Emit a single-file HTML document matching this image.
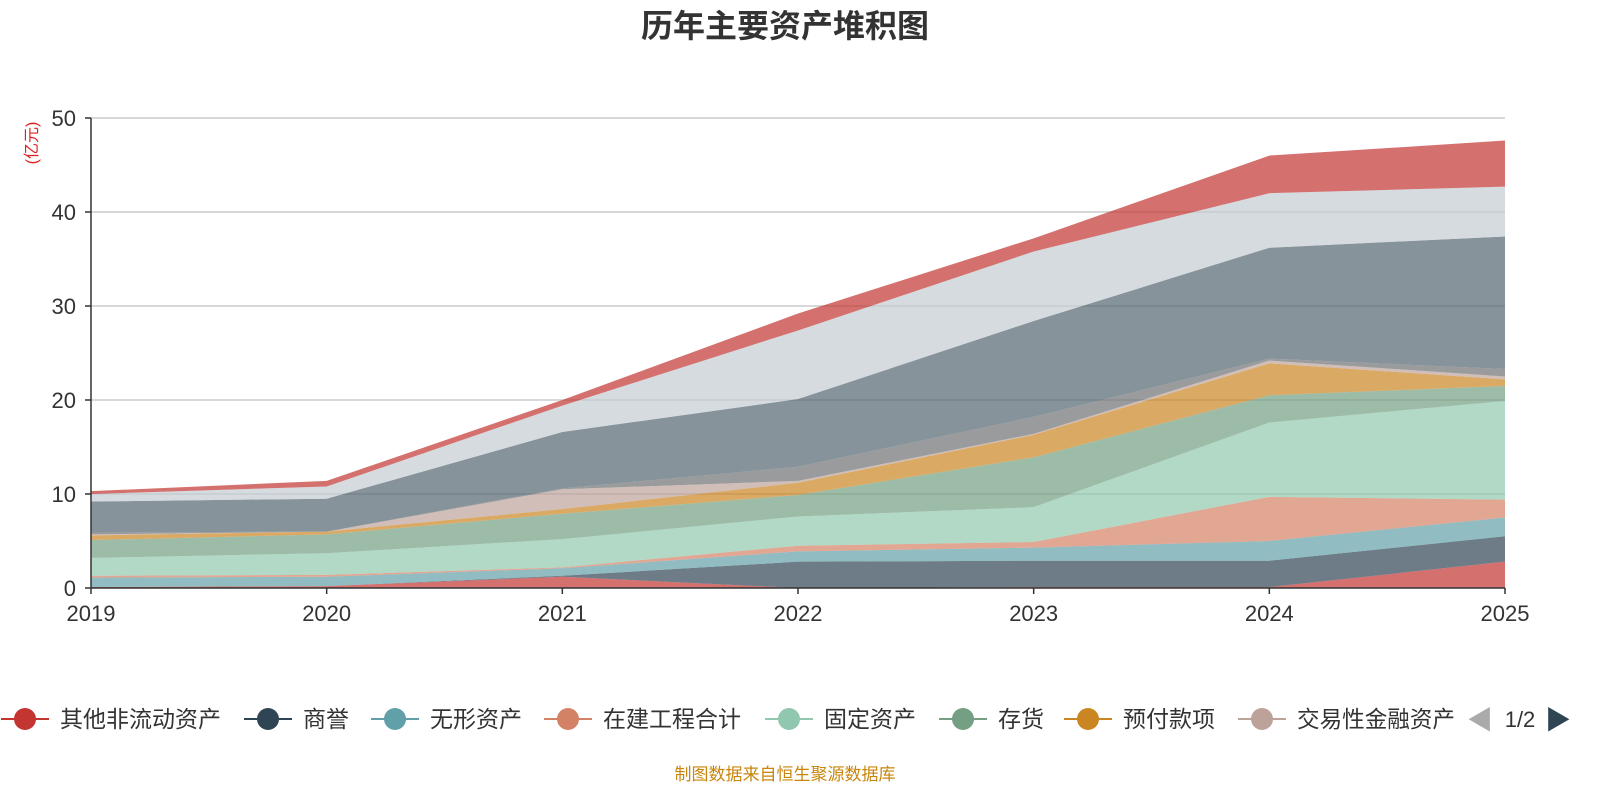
<!DOCTYPE html>
<html><head><meta charset="utf-8"><style>
body{margin:0;background:#fff;width:1600px;height:800px;overflow:hidden;font-family:"Liberation Sans","Noto Sans CJK SC",sans-serif;}
</style></head><body>
<svg id="chart" width="1600" height="800" xmlns="http://www.w3.org/2000/svg" font-family="Liberation Sans, Noto Sans CJK SC, sans-serif">
<text x="785" y="37" text-anchor="middle" font-size="32" font-weight="bold" fill="#333">历年主要资产堆积图</text>
<text transform="translate(37,143) rotate(-90)" text-anchor="middle" font-size="16" fill="#e02020">(亿元)</text>
<g id="grid"></g><g id="areas"></g><g id="axes"></g><g id="legend"></g>
<text x="1480" y="729" text-anchor="middle" font-size="26" fill="#aaa">◀</text>
<text x="1520" y="727" text-anchor="middle" font-size="22" fill="#333">1/2</text>
<text x="1558" y="729" text-anchor="middle" font-size="26" fill="#2f4554">▶</text>
<text x="785" y="780" text-anchor="middle" font-size="17" fill="#c8860c">制图数据来自恒生聚源数据库</text>
</svg>
<script>
const years=['2019','2020','2021','2022','2023','2024','2025'];
const seriesNames=['其他非流动资产','商誉','无形资产','在建工程合计','固定资产','存货','预付款项','交易性金融资产','应收票据','货币资金','应收账款','其他流动资产'];
const colors=['#c23531','#2f4554','#61a0a8','#d48265','#91c7ae','#749f83','#ca8622','#bda29a','#6e7074','#546570','#c4ccd3','#c23531'];
const s0=[0.1,0.2,1.2,0,0.1,0.1,2.8];
const s1=[0,0,0.1,2.8,2.8,2.8,2.7];
const s2=[1.0,1.0,0.8,1.1,1.4,2.1,2.0];
const s3=[0.2,0.2,0.1,0.6,0.6,4.7,1.9];
const s4=[1.9,2.3,3.0,3.1,3.7,7.9,10.5];
const s5=[1.9,2.0,2.7,2.3,5.3,2.9,1.6];
const s6=[0.5,0.3,0.5,1.3,2.4,3.4,0.7];
const s7=[0.1,0,2.1,0.2,0.1,0.3,0.3];
const s8=[0.2,0,0.1,1.5,1.8,0.2,0.8];
const s9=[3.3,3.5,6.0,7.2,10.2,11.8,14.1];
const s10=[0.8,1.3,2.8,7.3,7.4,5.8,5.3];
const s11=[0.3,0.6,0.6,1.8,1.4,4.0,4.9];
const yTicks=[0,10,20,30,40,50];
const series=[s0,s1,s2,s3,s4,s5,s6,s7,s8,s9,s10,s11];
const NS='http://www.w3.org/2000/svg';
const x0=91,x1=1505,y0=588,y1=118,ymax=50;
const X=i=>x0+(x1-x0)*i/(years.length-1);
const Y=v=>y0-(y0-y1)*v/ymax;
function mk(t,a,p){const e=document.createElementNS(NS,t);for(const k in a)e.setAttribute(k,a[k]);p.appendChild(e);return e;}
const grid=document.getElementById('grid'),areas=document.getElementById('areas'),axes=document.getElementById('axes'),legend=document.getElementById('legend');
yTicks.forEach(v=>{
 if(v>0){const l=mk('line',{x1:x0,x2:x1,y1:Y(v),y2:Y(v),stroke:'#ccc','stroke-width':1.5},grid);
 
 }
 const t=mk('text',{x:x0-15,y:Y(v)+8,'text-anchor':'end','font-size':22,fill:'#333'},axes);t.textContent=v;
 
 
 const k=mk('line',{x1:x0-6,x2:x0,y1:Y(v),y2:Y(v),stroke:'#333','stroke-width':1.5},axes);
 
 
});
let cum=years.map(()=>0);
series.forEach((s,si)=>{
 const lo=cum.slice();const hi=cum.map((c,i)=>c+s[i]);
 let d='M'+hi.map((v,i)=>X(i)+','+Y(v)).join('L');
 for(let i=years.length-1;i>=0;i--)d+='L'+X(i)+','+Y(lo[i]);
 const p=mk('path',{d:d+'Z',fill:colors[si],'fill-opacity':0.7,stroke:'none'},areas);
 
 
 cum=hi;
});
const ax=mk('line',{x1:x0,x2:x1,y1:y0,y2:y0,stroke:'#333','stroke-width':1.5},axes);


const ay=mk('line',{x1:x0,x2:x0,y1:y1,y2:y0,stroke:'#333','stroke-width':1.5},axes);


years.forEach((yr,i)=>{
 const t=mk('text',{x:X(i),y:621,'text-anchor':'middle','font-size':22,fill:'#333'},axes);t.textContent=yr;
 
 
 const k=mk('line',{x1:X(i),x2:X(i),y1:y0,y2:y0+6,stroke:'#333','stroke-width':1.5},axes);
 
 
});
const legX=[25,268,395,568,789,963,1088,1262];
legX.forEach((cx,i)=>{
 const g=mk('g',{},legend);
 
 
 mk('line',{x1:cx-24,x2:cx+24,y1:719,y2:719,stroke:colors[i],'stroke-width':2},g);
 mk('circle',{cx:cx,cy:719,r:11,fill:colors[i]},g);
 const t=mk('text',{x:cx+35,y:727,'font-size':23,fill:'#333'},g);t.textContent=seriesNames[i];
 if(i===7){t.setAttribute('textLength','158');t.setAttribute('lengthAdjust','spacingAndGlyphs');}
});
</script>
</body></html>
